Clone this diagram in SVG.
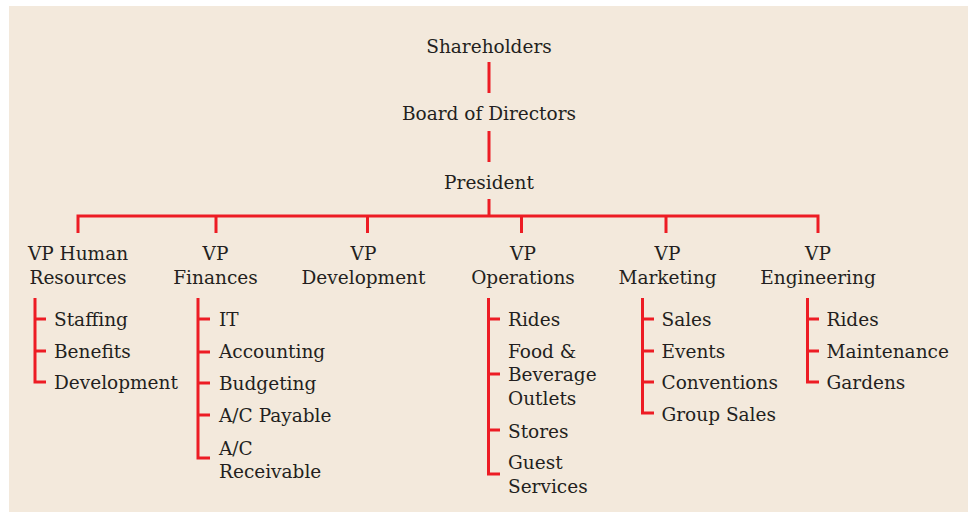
<svg xmlns="http://www.w3.org/2000/svg" width="968" height="512" viewBox="0 0 968 512">
<style>
text{font-family:"DejaVu Serif","Liberation Serif",serif;font-size:18.5px;fill:#231F20}
.c{text-anchor:middle}
.ln{fill:none;stroke:#ED1C24;stroke-width:3}
</style>
<rect x="0" y="0" width="968" height="512" fill="#FFFFFF"/>
<rect x="9" y="6" width="959" height="506" fill="#F3E9DC"/>
<g id="connectors" class="ln">
<path d="M489 62V93M489 131V162M489 199V216"/>
<path d="M78 233V216H818V233M216 216V233M367.5 216V233M521.5 216V233M666 216V233"/>
<path d="M35 298V382H46M35 319H46M35 351H46"/>
<path d="M198 298V458H210M198 319H210M198 352H210M198 383H210M198 415H210"/>
<path d="M488.5 298V474H500M488.5 319H500M488.5 374H500M488.5 430H500"/>
<path d="M642.5 298V413H654M642.5 319H654M642.5 351H654M642.5 382H654"/>
<path d="M807.5 298V382H819M807.5 319H819M807.5 351H819"/>
</g>
<g id="shareholders"><text class="c" x="489" y="53">Shareholders</text></g>
<g id="board"><text class="c" x="489" y="120">Board of Directors</text></g>
<g id="president"><text class="c" x="489" y="189">President</text></g>
<g id="vp-hr"><text class="c" x="78" y="260">VP Human</text><text class="c" x="78" y="283.5">Resources</text></g>
<g id="vp-finances"><text class="c" x="215.5" y="260">VP</text><text class="c" x="215.5" y="283.5">Finances</text></g>
<g id="vp-development"><text class="c" x="363.5" y="260">VP</text><text class="c" x="363.5" y="283.5">Development</text></g>
<g id="vp-operations"><text class="c" x="523" y="260">VP</text><text class="c" x="523" y="283.5">Operations</text></g>
<g id="vp-marketing"><text class="c" x="667.5" y="260">VP</text><text class="c" x="667.5" y="283.5">Marketing</text></g>
<g id="vp-engineering"><text class="c" x="818" y="260">VP</text><text class="c" x="818" y="283.5">Engineering</text></g>
<g id="hr-staffing"><text x="54" y="326">Staffing</text></g>
<g id="hr-benefits"><text x="54" y="357.5">Benefits</text></g>
<g id="hr-development"><text x="54" y="389">Development</text></g>
<g id="fin-it"><text x="219" y="326">IT</text></g>
<g id="fin-accounting"><text x="219" y="358">Accounting</text></g>
<g id="fin-budgeting"><text x="219" y="390">Budgeting</text></g>
<g id="fin-payable"><text x="219" y="421.5">A/C Payable</text></g>
<g id="fin-receivable"><text x="219" y="455">A/C</text><text x="219" y="478">Receivable</text></g>
<g id="ops-rides"><text x="508" y="326">Rides</text></g>
<g id="ops-food"><text x="508" y="357.5">Food &amp;</text><text x="508" y="381">Beverage</text><text x="508" y="405">Outlets</text></g>
<g id="ops-stores"><text x="508" y="437.5">Stores</text></g>
<g id="ops-guest"><text x="508" y="469">Guest</text><text x="508" y="493">Services</text></g>
<g id="mkt-sales"><text x="661.5" y="326">Sales</text></g>
<g id="mkt-events"><text x="661.5" y="357.5">Events</text></g>
<g id="mkt-conventions"><text x="661.5" y="389">Conventions</text></g>
<g id="mkt-group"><text x="661.5" y="420.5">Group Sales</text></g>
<g id="eng-rides"><text x="826.5" y="326">Rides</text></g>
<g id="eng-maintenance"><text x="826.5" y="357.5">Maintenance</text></g>
<g id="eng-gardens"><text x="826.5" y="389">Gardens</text></g>
</svg>
